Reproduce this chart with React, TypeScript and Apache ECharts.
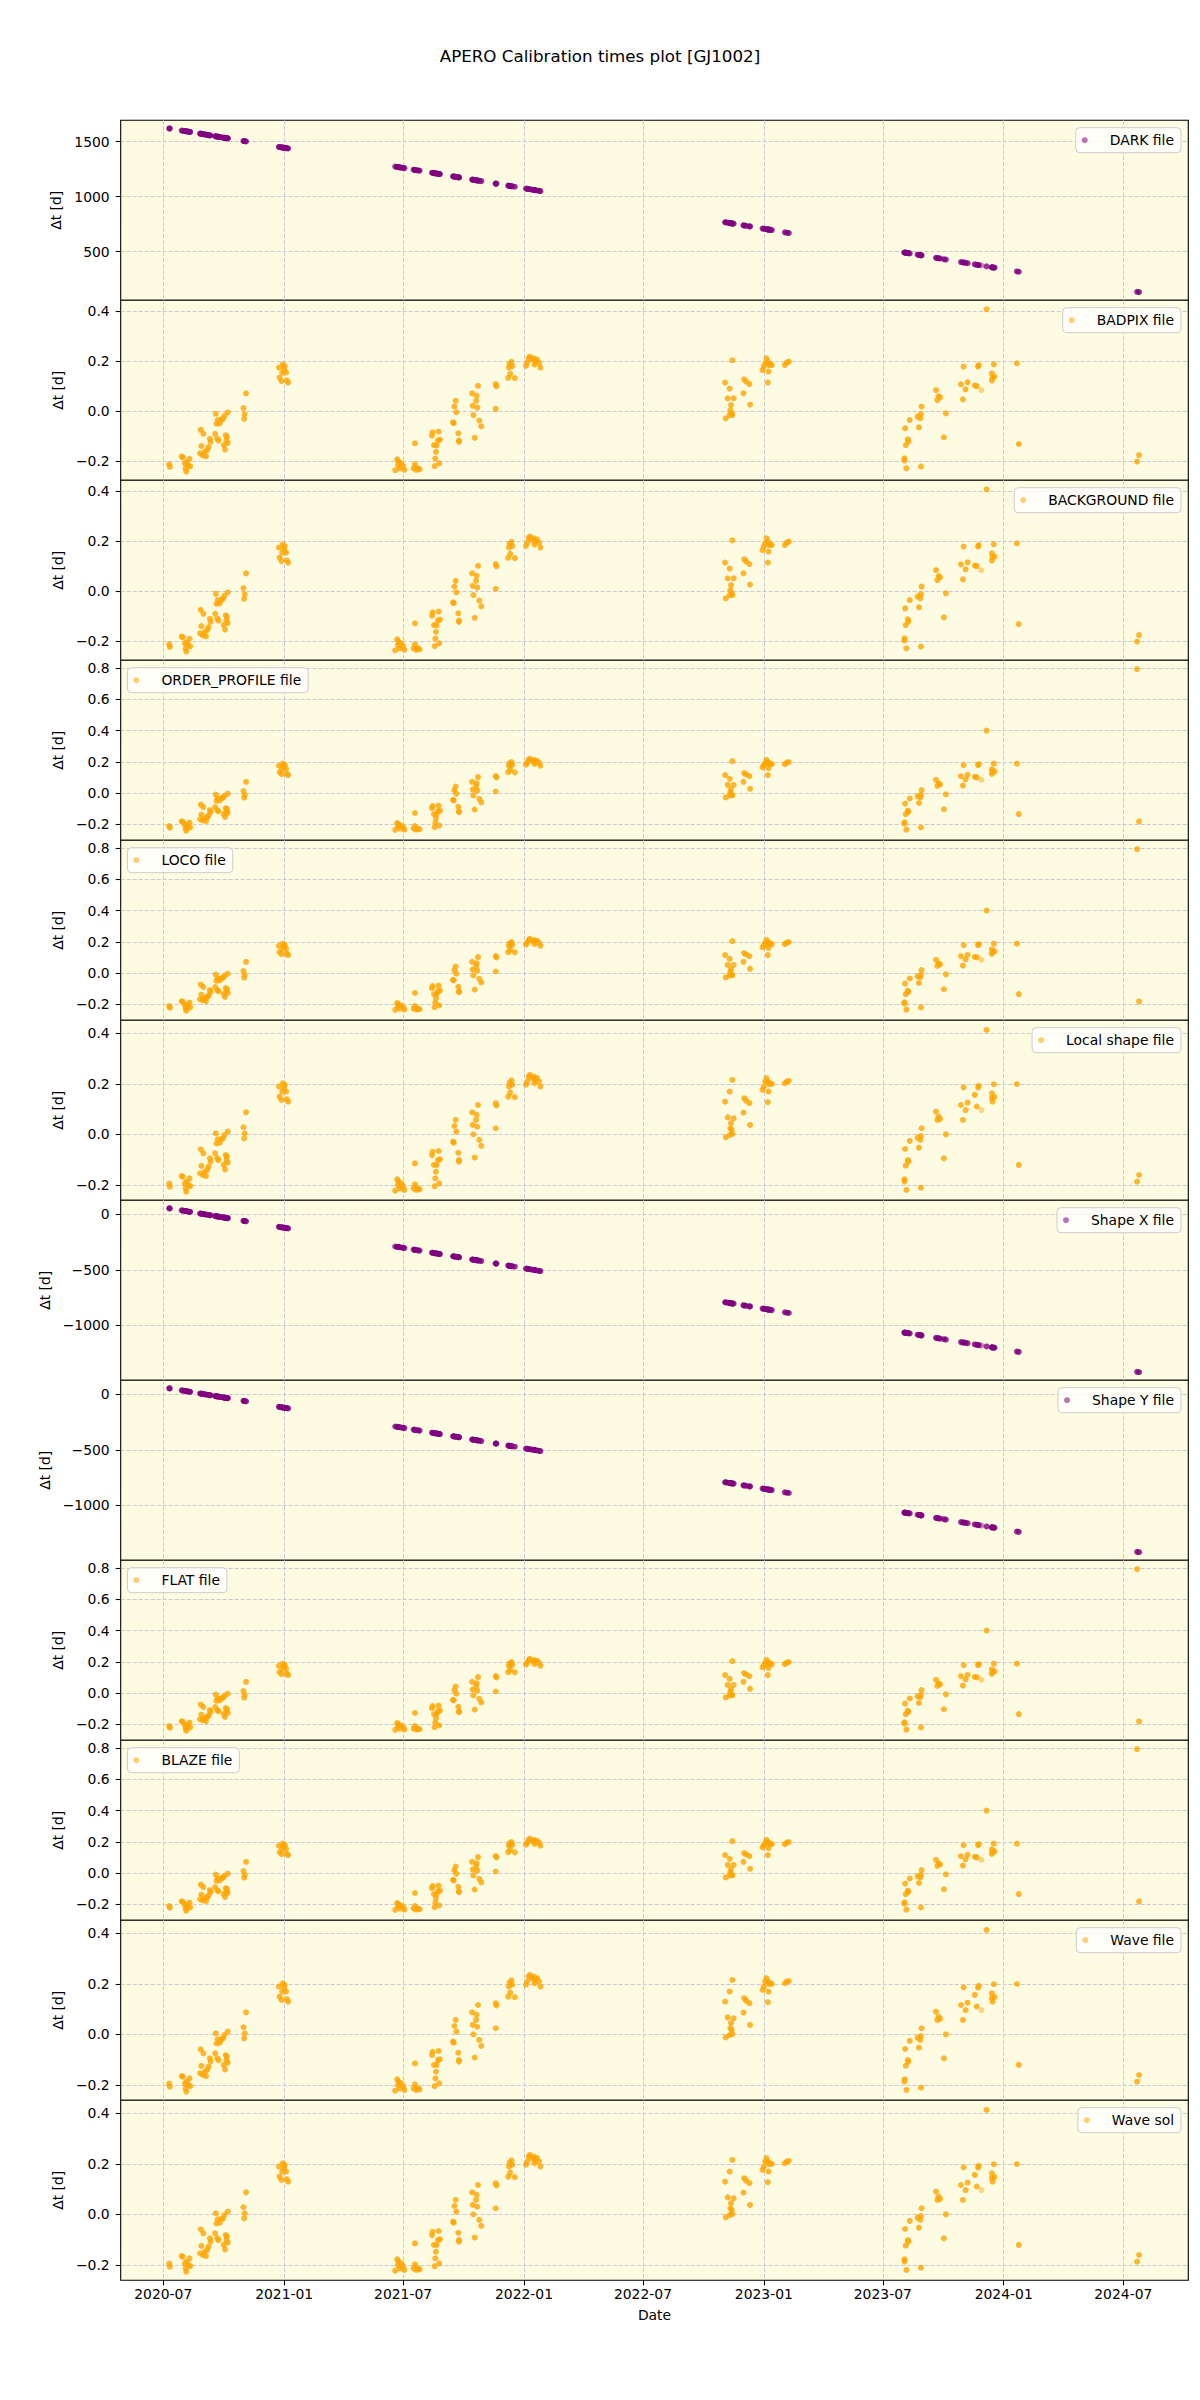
import React, { useEffect, useRef } from "react";
import * as echarts from "echarts";

// ---------------- DATA ----------------
// Observation dates shared by every panel
const obsDates = [
  "2020-07-10", "2020-07-11",
  "2020-07-29", "2020-07-31", "2020-08-03", "2020-08-04", "2020-08-05", "2020-08-06", "2020-08-08", "2020-08-10", "2020-08-11",
  "2020-08-26", "2020-08-27", "2020-08-28", "2020-08-30", "2020-08-31", "2020-09-02", "2020-09-04", "2020-09-06", "2020-09-08", "2020-09-10", "2020-09-11",
  "2020-09-18", "2020-09-19", "2020-09-20", "2020-09-21", "2020-09-22", "2020-09-23", "2020-09-25", "2020-09-27", "2020-09-30", "2020-10-01", "2020-10-02", "2020-10-03", "2020-10-04", "2020-10-05", "2020-10-06", "2020-10-07", "2020-10-07",
  "2020-10-31", "2020-11-01", "2020-11-02", "2020-11-04",
  "2020-12-24", "2020-12-25", "2020-12-28", "2020-12-29", "2020-12-30", "2021-01-01", "2021-01-02", "2021-01-04", "2021-01-05", "2021-01-07",
  "2021-06-19", "2021-06-22", "2021-06-23", "2021-06-24", "2021-06-26", "2021-06-28", "2021-07-01", "2021-07-03",
  "2021-07-17", "2021-07-19", "2021-07-19", "2021-07-21", "2021-07-24", "2021-07-26",
  "2021-08-14", "2021-08-15", "2021-08-17", "2021-08-18", "2021-08-19", "2021-08-20", "2021-08-21", "2021-08-23", "2021-08-24", "2021-08-25", "2021-08-26",
  "2021-09-15", "2021-09-16", "2021-09-17", "2021-09-19", "2021-09-20", "2021-09-23", "2021-09-24", "2021-09-24",
  "2021-10-14", "2021-10-15", "2021-10-16", "2021-10-18", "2021-10-20", "2021-10-21", "2021-10-22", "2021-10-23", "2021-10-25", "2021-10-28",
  "2021-11-19", "2021-11-19", "2021-11-20",
  "2021-12-08", "2021-12-09", "2021-12-10", "2021-12-11", "2021-12-13", "2021-12-14", "2021-12-18",
  "2022-01-04", "2022-01-06", "2022-01-08", "2022-01-10", "2022-01-13", "2022-01-16", "2022-01-17", "2022-01-18", "2022-01-21", "2022-01-24", "2022-01-26",
  "2022-11-03", "2022-11-04", "2022-11-07", "2022-11-10", "2022-11-10", "2022-11-11", "2022-11-12", "2022-11-13", "2022-11-14", "2022-11-14", "2022-11-16",
  "2022-12-01", "2022-12-02", "2022-12-05", "2022-12-10", "2022-12-11",
  "2022-12-30", "2023-01-01", "2023-01-03", "2023-01-05", "2023-01-07", "2023-01-07", "2023-01-08", "2023-01-09", "2023-01-11", "2023-01-13",
  "2023-02-02", "2023-02-05", "2023-02-08",
  "2023-08-03", "2023-08-03", "2023-08-04", "2023-08-05", "2023-08-06", "2023-08-08", "2023-08-09", "2023-08-11", "2023-08-23", "2023-08-25", "2023-08-27", "2023-08-28", "2023-08-28", "2023-08-29",
  "2023-09-20", "2023-09-22", "2023-09-24", "2023-09-26", "2023-10-02", "2023-10-05",
  "2023-10-28", "2023-10-31", "2023-11-01", "2023-11-04", "2023-11-07",
  "2023-11-18", "2023-11-21", "2023-11-23", "2023-11-24", "2023-11-28",
  "2023-12-06",
  "2023-12-14", "2023-12-14", "2023-12-15", "2023-12-17", "2023-12-18",
  "2024-01-21", "2024-01-24",
  "2024-07-22", "2024-07-25",
];

// Points drawn faintly in the reference
const faintDates = ["2023-11-28"];

const darkValues = [
  1620, 1619,
  1601, 1599, 1596, 1595, 1594, 1593, 1591, 1589, 1588,
  1573, 1572, 1571, 1569, 1568, 1566, 1563, 1561, 1559, 1557, 1556,
  1549, 1548, 1547, 1546, 1545, 1544, 1542, 1540, 1537, 1536, 1535, 1534, 1533, 1532, 1531, 1530, 1530,
  1506, 1505, 1504, 1502,
  1452, 1451, 1448, 1447, 1446, 1444, 1443, 1441, 1440, 1438,
  1273, 1270, 1269, 1268, 1266, 1264, 1261, 1259,
  1245, 1243, 1243, 1241, 1238, 1236,
  1217, 1216, 1214, 1213, 1212, 1211, 1210, 1208, 1207, 1206, 1205,
  1184, 1183, 1182, 1180, 1179, 1176, 1175, 1175,
  1155, 1154, 1153, 1151, 1149, 1148, 1147, 1146, 1144, 1141,
  1119, 1119, 1118,
  1100, 1099, 1098, 1097, 1095, 1094, 1090,
  1073, 1071, 1069, 1067, 1064, 1061, 1060, 1059, 1056, 1053, 1050,
  767, 766, 763, 760, 760, 759, 758, 757, 756, 756, 754,
  739, 738, 735, 730, 729,
  710, 708, 706, 704, 702, 702, 701, 700, 698, 696,
  675, 672, 669,
  492, 492, 491, 490, 489, 487, 486, 484, 472, 470, 468, 467, 467, 466,
  444, 442, 440, 438, 431, 428,
  405, 402, 401, 398, 395,
  384, 381, 379, 378, 374,
  366,
  358, 358, 357, 355, 354,
  320, 317,
  135, 132,
];

const badpixValues = [
  -0.212, -0.222,
  -0.181, -0.184, -0.208, -0.229, -0.241, -0.203, -0.217, -0.190, -0.220,
  -0.168, -0.074, -0.139, -0.176, -0.090, -0.162, -0.180, -0.155, -0.143, -0.110, -0.122,
  -0.090, -0.010, -0.050, -0.109, -0.035, -0.117, -0.048, -0.034, -0.030, -0.135, -0.018, -0.153, -0.096, -0.117, -0.103, -0.004, -0.127,
  0.013, -0.030, -0.011, 0.072,
  0.175, 0.135, 0.121, 0.155, 0.188, 0.167, 0.180, 0.155, 0.124, 0.115,
  -0.236, -0.192, -0.215, -0.201, -0.228, -0.208, -0.219, -0.234,
  -0.228, -0.212, -0.128, -0.234, -0.228, -0.232,
  -0.097, -0.084, -0.135, -0.219, -0.189, -0.162, -0.136, -0.117, -0.081, -0.208, -0.113,
  -0.044, -0.047, 0.019, 0.042, -0.004, -0.088, -0.117, -0.122,
  0.072, 0.022, -0.015, -0.106, 0.042, 0.062, 0.015, 0.102, -0.037, -0.060,
  0.109, 0.010, 0.100,
  0.134, 0.175, 0.190, 0.150, 0.198, 0.181, 0.133,
  0.182, 0.195, 0.213, 0.219, 0.207, 0.212, 0.187, 0.200, 0.207, 0.194, 0.175,
  0.115, -0.028, 0.052, -0.015, 0.091, 0.005, 0.025, -0.008, -0.015, 0.204, 0.052,
  0.072, 0.128, 0.119, 0.109, 0.027,
  0.165, 0.179, 0.192, 0.212, 0.199, 0.115, 0.159, 0.185, 0.189, 0.185,
  0.185, 0.195, 0.199,
  -0.188, -0.197, -0.068, -0.135, -0.228, -0.112, -0.121, -0.035, -0.021, -0.064, -0.028, -0.011, -0.221, 0.019,
  0.085, 0.045, 0.061, 0.055, -0.104, -0.008,
  0.108, 0.048, 0.179, 0.088, 0.116,
  0.103, 0.101, 0.179, 0.185, 0.085,
  0.408,
  0.152, 0.123, 0.136, 0.188, 0.139,
  0.192, -0.131,
  -0.201, -0.175,
];

const backgroundValues = badpixValues;

const orderProfileValues = [
  -0.212, -0.222,
  -0.181, -0.184, -0.208, -0.229, -0.241, -0.203, -0.217, -0.190, -0.220,
  -0.168, -0.074, -0.139, -0.176, -0.090, -0.162, -0.180, -0.155, -0.143, -0.110, -0.122,
  -0.090, -0.010, -0.050, -0.109, -0.035, -0.117, -0.048, -0.034, -0.030, -0.135, -0.018, -0.153, -0.096, -0.117, -0.103, -0.004, -0.127,
  0.013, -0.030, -0.011, 0.072,
  0.175, 0.135, 0.121, 0.155, 0.188, 0.167, 0.180, 0.155, 0.124, 0.115,
  -0.236, -0.192, -0.215, -0.201, -0.228, -0.208, -0.219, -0.234,
  -0.228, -0.212, -0.128, -0.234, -0.228, -0.232,
  -0.097, -0.084, -0.135, -0.219, -0.189, -0.162, -0.136, -0.117, -0.081, -0.208, -0.113,
  -0.044, -0.047, 0.019, 0.042, -0.004, -0.088, -0.117, -0.122,
  0.072, 0.022, -0.015, -0.106, 0.042, 0.062, 0.015, 0.102, -0.037, -0.060,
  0.109, 0.010, 0.100,
  0.134, 0.175, 0.190, 0.150, 0.198, 0.181, 0.133,
  0.182, 0.195, 0.213, 0.219, 0.207, 0.212, 0.187, 0.200, 0.207, 0.194, 0.175,
  0.115, -0.028, 0.052, -0.015, 0.091, 0.005, 0.025, -0.008, -0.015, 0.204, 0.052,
  0.072, 0.128, 0.119, 0.109, 0.027,
  0.165, 0.179, 0.192, 0.212, 0.199, 0.115, 0.159, 0.185, 0.189, 0.185,
  0.185, 0.195, 0.199,
  -0.188, -0.197, -0.068, -0.135, -0.235, -0.112, -0.121, -0.035, -0.021, -0.064, -0.028, -0.011, -0.221, 0.019,
  0.085, 0.045, 0.061, 0.055, -0.104, -0.008,
  0.108, 0.048, 0.179, 0.088, 0.116,
  0.103, 0.101, 0.179, 0.185, 0.085,
  0.400,
  0.152, 0.123, 0.136, 0.188, 0.139,
  0.188, -0.135,
  0.794, -0.182,
];

const locoValues = orderProfileValues;
const flatValues = orderProfileValues;
const blazeValues = orderProfileValues;

const localShapeValues = [
  -0.195, -0.207,
  -0.165, -0.168, -0.194, -0.214, -0.227, -0.187, -0.201, -0.174, -0.205,
  -0.154, -0.059, -0.125, -0.161, -0.075, -0.148, -0.165, -0.141, -0.128, -0.095, -0.108,
  -0.075, 0.004, -0.036, -0.095, -0.020, -0.102, -0.033, -0.020, -0.016, -0.121, -0.003, -0.139, -0.082, -0.102, -0.088, 0.011, -0.112,
  0.028, -0.016, 0.004, 0.087,
  0.189, 0.149, 0.136, 0.169, 0.202, 0.182, 0.195, 0.169, 0.139, 0.129,
  -0.223, -0.178, -0.201, -0.187, -0.214, -0.194, -0.205, -0.220,
  -0.214, -0.198, -0.115, -0.220, -0.214, -0.218,
  -0.082, -0.069, -0.121, -0.205, -0.174, -0.148, -0.121, -0.102, -0.066, -0.194, -0.099,
  -0.029, -0.033, 0.033, 0.057, 0.011, -0.073, -0.102, -0.108,
  0.087, 0.037, 0.000, -0.092, 0.057, 0.077, 0.030, 0.116, -0.022, -0.046,
  0.123, 0.024, 0.114,
  0.149, 0.189, 0.205, 0.165, 0.213, 0.196, 0.147,
  0.196, 0.209, 0.228, 0.235, 0.222, 0.228, 0.202, 0.215, 0.222, 0.209, 0.189,
  0.129, -0.012, 0.067, -0.003, 0.169, 0.024, 0.044, 0.017, 0.001, 0.215, 0.063,
  0.086, 0.143, 0.133, 0.123, 0.037,
  0.176, 0.189, 0.209, 0.222, 0.209, 0.127, 0.169, 0.199, 0.202, 0.199,
  0.202, 0.209, 0.211,
  -0.178, -0.187, -0.058, -0.124, -0.220, -0.102, -0.108, -0.026, -0.013, -0.053, -0.022, -0.007, -0.211, 0.024,
  0.090, 0.057, 0.070, 0.061, -0.095, 0.000,
  0.116, 0.057, 0.186, 0.096, 0.125,
  0.156, 0.110, 0.185, 0.192, 0.096,
  0.413,
  0.162, 0.143, 0.129, 0.198, 0.147,
  0.199, -0.121,
  -0.187, -0.161,
];

const waveValues = localShapeValues;
const waveSolValues = localShapeValues;

const shapeXValues = [
  54, 53,
  35, 33, 30, 29, 28, 27, 25, 23, 22,
  7, 6, 5, 3, 2, 0, -2, -4, -6, -8, -9,
  -16, -17, -18, -19, -20, -21, -23, -25, -28, -29, -30, -31, -32, -33, -34, -35, -35,
  -59, -60, -61, -63,
  -113, -114, -117, -118, -119, -121, -122, -124, -125, -127,
  -290, -293, -294, -295, -297, -299, -302, -304,
  -318, -320, -320, -322, -325, -327,
  -346, -347, -349, -350, -351, -352, -353, -355, -356, -357, -358,
  -378, -379, -380, -382, -383, -386, -387, -387,
  -407, -408, -409, -411, -413, -414, -415, -416, -418, -421,
  -443, -443, -444,
  -462, -463, -464, -465, -467, -468, -472,
  -489, -491, -493, -495, -498, -501, -502, -503, -506, -509, -511,
  -792, -793, -796, -799, -799, -800, -801, -802, -803, -803, -805,
  -820, -821, -824, -829, -830,
  -849, -851, -853, -855, -857, -857, -858, -859, -861, -863,
  -883, -886, -889,
  -1065, -1065, -1066, -1067, -1068, -1070, -1071, -1073, -1085, -1087, -1089, -1090, -1090, -1091,
  -1113, -1115, -1117, -1119, -1125, -1128,
  -1151, -1154, -1155, -1158, -1161,
  -1172, -1175, -1177, -1178, -1182,
  -1190,
  -1198, -1198, -1199, -1201, -1202,
  -1236, -1239,
  -1419, -1422,
];

const shapeYValues = shapeXValues;

// Tick labels
const xTickDates = [
  "2020-07-01", "2021-01-01", "2021-07-01", "2022-01-01", "2022-07-01",
  "2023-01-01", "2023-07-01", "2024-01-01", "2024-07-01",
];
const darkTicks = [500, 1000, 1500];
const shortTicks = [-0.2, 0, 0.2, 0.4];
const tallTicks = [-0.2, 0, 0.2, 0.4, 0.6, 0.8];
const shapeTicks = [-1000, -500, 0];

// ---------------- STYLE / LAYOUT ----------------
const FONT = "DejaVu Sans";
const ORANGE = "#ffa500";
const PURPLE = "#800080";
const FACE = "#fdfbe1";
const GRID_LINE = "#c9c9cf";
const PLOT_LEFT = 120.7;
const PLOT_RIGHT = 11.7;
const PLOT_TOP = 120.3;
const PANEL_H = 180;
const X_MIN = Date.parse("2020-04-27T05:00:00Z");
const X_MAX = Date.parse("2024-10-07T22:00:00Z");

const toTime = (s: string) => Date.parse(s + "T00:00:00Z");

type Panel = {
  name: string;
  values: number[];
  color: string;
  yMin: number;
  yMax: number;
  ticks: number[];
  decimals: number;
  legendSide: "left" | "right";
  nameGap: number;
};

const panels: Panel[] = [
  { name: "DARK file", values: darkValues, color: PURPLE, yMin: 57.6, yMax: 1694, ticks: darkTicks, decimals: 0, legendSide: "right", nameGap: 53 },
  { name: "BADPIX file", values: badpixValues, color: ORANGE, yMin: -0.276, yMax: 0.444, ticks: shortTicks, decimals: 1, legendSide: "right", nameGap: 52 },
  { name: "BACKGROUND file", values: backgroundValues, color: ORANGE, yMin: -0.276, yMax: 0.444, ticks: shortTicks, decimals: 1, legendSide: "right", nameGap: 52 },
  { name: "ORDER_PROFILE file", values: orderProfileValues, color: ORANGE, yMin: -0.303, yMax: 0.851, ticks: tallTicks, decimals: 1, legendSide: "left", nameGap: 52 },
  { name: "LOCO file", values: locoValues, color: ORANGE, yMin: -0.303, yMax: 0.851, ticks: tallTicks, decimals: 1, legendSide: "left", nameGap: 52 },
  { name: "Local shape file", values: localShapeValues, color: ORANGE, yMin: -0.261, yMax: 0.451, ticks: shortTicks, decimals: 1, legendSide: "right", nameGap: 52 },
  { name: "Shape X file", values: shapeXValues, color: PURPLE, yMin: -1495, yMax: 126, ticks: shapeTicks, decimals: 0, legendSide: "right", nameGap: 63.5 },
  { name: "Shape Y file", values: shapeYValues, color: PURPLE, yMin: -1495, yMax: 126, ticks: shapeTicks, decimals: 0, legendSide: "right", nameGap: 63.5 },
  { name: "FLAT file", values: flatValues, color: ORANGE, yMin: -0.303, yMax: 0.851, ticks: tallTicks, decimals: 1, legendSide: "left", nameGap: 52 },
  { name: "BLAZE file", values: blazeValues, color: ORANGE, yMin: -0.303, yMax: 0.851, ticks: tallTicks, decimals: 1, legendSide: "left", nameGap: 52 },
  { name: "Wave file", values: waveValues, color: ORANGE, yMin: -0.261, yMax: 0.451, ticks: shortTicks, decimals: 1, legendSide: "right", nameGap: 52 },
  { name: "Wave sol", values: waveSolValues, color: ORANGE, yMin: -0.261, yMax: 0.451, ticks: shortTicks, decimals: 1, legendSide: "right", nameGap: 52 },
];

const fmtNum = (v: number, decimals: number) => {
  const s = Math.abs(v).toFixed(decimals);
  return (v < 0 && Number(s) !== 0 ? "\u2212" : "") + s;
};

const fmtDate = (v: number) => {
  const d = new Date(v);
  return `${d.getUTCFullYear()}-${String(d.getUTCMonth() + 1).padStart(2, "0")}`;
};

function buildOption() {
  const xTicks = xTickDates.map(toTime);
  const last = panels.length - 1;
  const gridLine = { show: true, lineStyle: { color: GRID_LINE, type: [4, 2] as any, width: 1 } };
  const textBase = { fontFamily: FONT, fontSize: 13.9, color: "#000" };

  const grid = panels.map((_, i) => ({
    left: PLOT_LEFT,
    right: PLOT_RIGHT,
    top: PLOT_TOP + i * PANEL_H,
    height: PANEL_H,
    show: true,
    backgroundColor: FACE,
    borderColor: "#000",
    borderWidth: 1.1,
    containLabel: false,
  }));

  const xAxis = panels.map((_, i) => ({
    type: "value",
    gridIndex: i,
    position: "bottom",
    min: X_MIN,
    max: X_MAX,
    axisLine: { show: false, onZero: false },
    axisTick: { show: i === last, customValues: xTicks, length: 5, lineStyle: { color: "#000", width: 1.1 } },
    axisLabel: { show: i === last, customValues: xTicks, formatter: fmtDate, margin: 7, ...textBase },
    splitLine: gridLine,
    name: i === last ? "Date" : "",
    nameLocation: "middle",
    nameGap: 28,
    nameTextStyle: textBase,
  }));

  const yAxis = panels.map((p, i) => ({
    type: "value",
    gridIndex: i,
    position: "left",
    min: p.yMin,
    max: p.yMax,
    axisLine: { show: false, onZero: false },
    axisTick: { show: true, customValues: p.ticks, length: 5, lineStyle: { color: "#000", width: 1.1 } },
    axisLabel: { customValues: p.ticks, formatter: (v: number) => fmtNum(v, p.decimals), margin: 11, ...textBase },
    splitLine: gridLine,
    name: "\u0394t [d]",
    nameLocation: "middle",
    nameGap: p.nameGap,
    nameTextStyle: textBase,
  }));

  const legend = panels.map((p, i) => {
    const base: any = {
      data: [p.name],
      top: PLOT_TOP + i * PANEL_H + 7.4,
      orient: "horizontal",
      icon: "circle",
      itemWidth: 26,
      itemHeight: 6,
      itemGap: 0,
      padding: [5, 7, 5, 6],
      backgroundColor: "rgba(255,255,255,0.8)",
      borderColor: "#cccccc",
      borderWidth: 1,
      borderRadius: 4,
      selectedMode: false,
      itemStyle: { opacity: 0.55 },
      textStyle: { ...textBase, lineHeight: 15, padding: [0, 0, 0, 7] },
    };
    if (p.legendSide === "right") base.right = 19;
    else base.left = 127.4;
    return base;
  });

  const series = panels.map((p, i) => ({
    type: "scatter",
    name: p.name,
    xAxisIndex: i,
    yAxisIndex: i,
    symbol: "circle",
    symbolSize: 6,
    itemStyle: { color: p.color },
    data: obsDates.map((d, k) =>
      faintDates.includes(d)
        ? { value: [toTime(d), p.values[k]], itemStyle: { opacity: 0.45 } }
        : [toTime(d), p.values[k]]
    ),
  }));

  return {
    animation: false,
    backgroundColor: "#ffffff",
    title: {
      text: "APERO Calibration times plot [GJ1002]",
      left: "center",
      top: 47,
      padding: 0,
      textStyle: { fontFamily: FONT, fontSize: 16.7, fontWeight: "normal", color: "#000" },
    },
    grid,
    xAxis,
    yAxis,
    legend,
    series,
  };
}

export default function App() {
  const ref = useRef<HTMLDivElement>(null);
  useEffect(() => {
    document.body.style.margin = "0";
    if (!ref.current) return;
    const chart = echarts.init(ref.current, undefined, { renderer: "svg" });
    chart.setOption(buildOption() as any);
    return () => chart.dispose();
  }, []);
  return <div ref={ref} style={{ width: 1200, height: 2400 }} />;
}
